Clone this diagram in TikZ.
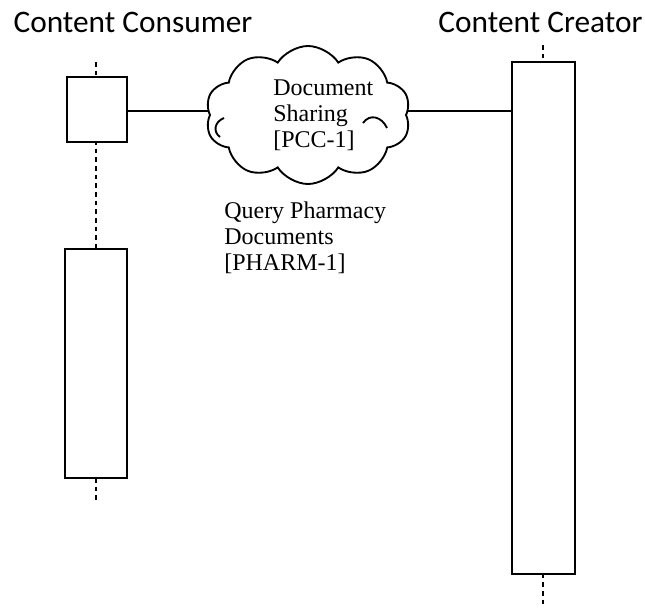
\documentclass[tikz,border=0pt]{standalone}
\usepackage{fontspec}
\setmainfont{Liberation Serif}
\newfontfamily\titlefont{Carlito}
\usetikzlibrary{shapes.symbols}
\begin{document}
\begin{tikzpicture}[x=0.75pt,y=-0.75pt,
  actbox/.style={draw,line width=1.6pt,fill=white,inner sep=0pt},
  lifeline/.style={line width=0.9pt,dash pattern=on 3.5pt off 3pt},
  conn/.style={line width=1.2pt},
  ttl/.style={font=\titlefont\fontsize{23.5}{28}\selectfont,inner sep=0pt},
  lbl/.style={font=\fontsize{18}{19.3}\selectfont,align=left,inner sep=0pt}]
\useasboundingbox (0,0) rectangle (645,607);
% titles
\node[ttl,anchor=base] (tcons) at (133,32.5) {Content Consumer};
\node[ttl,anchor=base] (tcrea) at (540.5,32.5) {Content Creator};
% lifelines
\coordinate (l1top) at (96,62);
\coordinate (l1bot) at (96,500);
\coordinate (r1top) at (543,45);
\coordinate (r1bot) at (543,607);
\draw[lifeline] (l1top) -- (l1bot);
\draw[lifeline] (r1top) -- (r1bot);
% boxes
\node[actbox,minimum width=60*0.75pt,minimum height=65*0.75pt] (box1) at (97,109.5) {};
\node[actbox,minimum width=62*0.75pt,minimum height=229*0.75pt] (box2) at (96,363.5) {};
\node[actbox,minimum width=63*0.75pt,minimum height=512*0.75pt] (rbox) at (543.5,318) {};
% cloud
\node[cloud,draw,line width=1.4pt,fill=white,cloud puffs=10,cloud puff arc=115,
      minimum width=205*0.75pt,minimum height=138*0.75pt,inner sep=0pt] (cloud) at (308,115) {};
\draw[line width=1.4pt] (224,118) .. controls (214,122) and (213,132) .. (220,137);
\draw[line width=1.4pt] (363,123) .. controls (370,113) and (382,117) .. (387,128);
\node[lbl,anchor=base west] (ctext) at (273,147) {Document\\Sharing\\{[PCC-1]}};
% connectors
\draw[conn] (box1.east |- 0,111) -- (cloud.west |- 0,111);
\draw[conn] (cloud.east |- 0,111) -- (rbox.west |- 0,111);
% query label
\node[lbl,anchor=base west] (qtext) at (224,270) {Query Pharmacy\\Documents\\{[PHARM-1]}};
\end{tikzpicture}
\end{document}
